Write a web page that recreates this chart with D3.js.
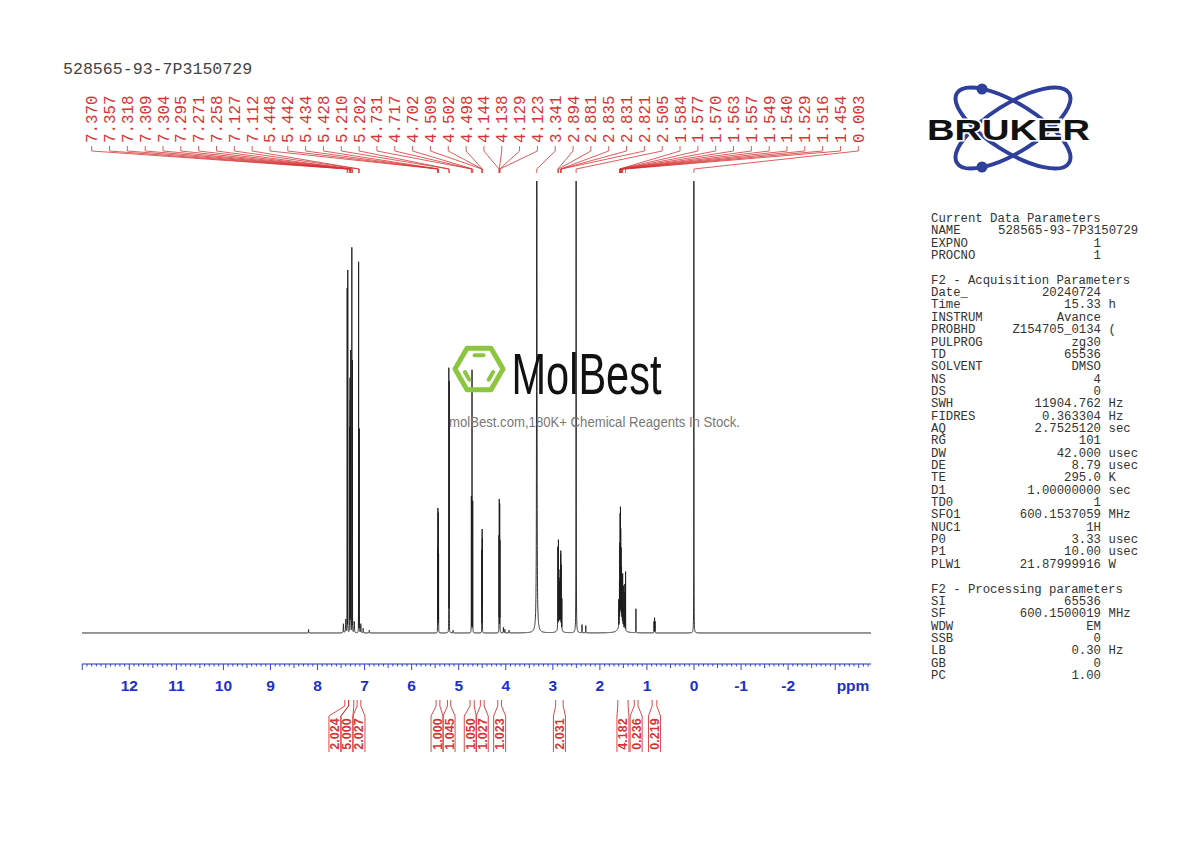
<!DOCTYPE html>
<html><head><meta charset="utf-8">
<script src="https://cdn.jsdelivr.net/npm/d3@7"></script>
<style>body{margin:0;background:#fff}svg{display:block}</style>
</head><body>
<svg id="c" width="1190" height="842"></svg>
<script>
// ---------------- data ----------------
const sampleName = "528565-93-7P3150729";
const peakPpm = [7.370,7.357,7.318,7.309,7.304,7.295,7.271,7.258,7.127,7.112,
  5.448,5.442,5.434,5.428,5.210,5.202,4.731,4.717,4.702,4.509,4.502,4.498,
  4.144,4.138,4.129,4.123,3.341,2.894,2.881,2.835,2.831,2.821,2.505,
  1.584,1.577,1.570,1.563,1.557,1.549,1.540,1.529,1.516,1.454,0.003];
const peakHeight = [0.76,0.80,0.45,0.55,0.50,0.62,0.85,0.60,0.82,0.45,
  0.18,0.27,0.26,0.17,0.58,0.55,0.30,0.58,0.29,0.18,0.22,0.20,
  0.21,0.29,0.28,0.20,2.6,0.18,0.19,0.15,0.16,0.14,2.2,
  0.09,0.17,0.23,0.24,0.19,0.15,0.11,0.10,0.11,0.13,1.6];
const peakWidth = [0.0007,0.0007,0.0007,0.0007,0.0007,0.0007,0.0007,0.0007,0.0007,0.0007,
  0.0008,0.0008,0.0008,0.0008,0.0009,0.0009,0.0009,0.0009,0.0009,0.0008,0.0008,0.0008,
  0.0008,0.0008,0.0008,0.0008,0.003,0.0012,0.0012,0.0010,0.0010,0.0010,0.0015,
  0.0008,0.0008,0.0008,0.0008,0.0008,0.0008,0.0008,0.0008,0.0008,0.0010,0.0012];
// small unlabelled signals
const minorPpm    = [8.19, 7.45, 7.40, 7.22, 7.08, 7.03, 6.90, 5.12, 4.05, 4.02, 3.93, 3.34,
  2.868, 2.855, 2.845, 2.808, 2.86, 2.38, 2.30, 1.60, 1.50, 1.48, 1.47, 1.55, 1.234, 0.850, 0.838, 0.826];
const minorHeight = [0.008, 0.02, 0.03, 0.025, 0.02, 0.01, 0.006, 0.006, 0.012, 0.008, 0.006, 0.015,
  0.10, 0.09, 0.12, 0.07, 0.02, 0.018, 0.016, 0.06, 0.09, 0.08, 0.10, 0.035, 0.053, 0.025, 0.033, 0.025];
const minorWidth  = [0.003, 0.004, 0.005, 0.005, 0.004, 0.004, 0.004, 0.003, 0.003, 0.003, 0.003, 0.03,
  0.0012, 0.0012, 0.0012, 0.0012, 0.03, 0.002, 0.002, 0.001, 0.001, 0.001, 0.001, 0.04, 0.0015, 0.0015, 0.0015, 0.0015];

const integralFrom  = [7.42, 7.34, 7.16, 5.48, 5.24, 4.76, 4.54, 4.17, 2.94, 1.62, 1.27, 0.89];
const integralTo    = [7.34, 7.23, 7.08, 5.40, 5.17, 4.67, 4.46, 4.09, 2.78, 1.40, 1.19, 0.79];
const integralValue = ["2.024","5.000","2.027","1.000","1.045","1.050","1.027","1.023","2.031","4.182","0.236","0.219"];

const axisTicks = [12,11,10,9,8,7,6,5,4,3,2,1,0,-1,-2];

const paramRows = [
  ["Current Data Parameters"],
  ["NAME", "528565-93-7P3150729", "", "left"],
  ["EXPNO", "1", ""],
  ["PROCNO", "1", ""],
  [],
  ["F2 - Acquisition Parameters"],
  ["Date_", "20240724", ""],
  ["Time", "15.33", "h"],
  ["INSTRUM", "Avance", ""],
  ["PROBHD", "Z154705_0134", "("],
  ["PULPROG", "zg30", ""],
  ["TD", "65536", ""],
  ["SOLVENT", "DMSO", ""],
  ["NS", "4", ""],
  ["DS", "0", ""],
  ["SWH", "11904.762", "Hz"],
  ["FIDRES", "0.363304", "Hz"],
  ["AQ", "2.7525120", "sec"],
  ["RG", "101", ""],
  ["DW", "42.000", "usec"],
  ["DE", "8.79", "usec"],
  ["TE", "295.0", "K"],
  ["D1", "1.00000000", "sec"],
  ["TD0", "1", ""],
  ["SFO1", "600.1537059", "MHz"],
  ["NUC1", "1H", ""],
  ["P0", "3.33", "usec"],
  ["P1", "10.00", "usec"],
  ["PLW1", "21.87999916", "W"],
  [],
  ["F2 - Processing parameters"],
  ["SI", "65536", ""],
  ["SF", "600.1500019", "MHz"],
  ["WDW", "EM", ""],
  ["SSB", "0", ""],
  ["LB", "0.30", "Hz"],
  ["GB", "0", ""],
  ["PC", "1.00", ""]
];

// ---------------- drawing ----------------
const svg = d3.select("#c");
const W = 1190, H = 842;
svg.append("rect").attr("width", W).attr("height", H).attr("fill", "#fff");

const x = d3.scaleLinear().domain([13.005, -3.761]).range([82, 871]);
const y = d3.scaleLinear().domain([0, 1]).range([633, 181]);

const mono = "'Liberation Mono', 'DejaVu Sans Mono', monospace";
const sans = "'Liberation Sans', Arial, sans-serif";
const red = "#d63434";
const blue = "#2030c8";

// title
svg.append("text").attr("x", 63).attr("y", 73.5).text(sampleName)
  .attr("font-family", mono).attr("font-size", 16.6).attr("fill", "#444");

// spectrum
const peaks = peakPpm.map((p, i) => ({p, h: peakHeight[i], w: peakWidth[i]}))
  .concat(minorPpm.map((p, i) => ({p, h: minorHeight[i], w: minorWidth[i]})));
const [d0, d1] = x.domain();
let grid = d3.range(d0, d1, -0.001).concat(peaks.map(k => k.p), [d1]);
grid.sort((a, b) => b - a);
const spec = grid.map(p => {
  let s = 0;
  for (const k of peaks) { const u = (p - k.p) / k.w; s += k.h / (1 + u * u); }
  return [p, s];
});
svg.append("clipPath").attr("id", "clip").append("rect")
  .attr("x", 80).attr("y", 181).attr("width", 795).attr("height", 470);
svg.append("path").attr("clip-path", "url(#clip)")
  .attr("d", d3.line().x(d => x(d[0])).y(d => y(d[1]))(spec))
  .attr("fill", "none").attr("stroke", "#1c1c1c").attr("stroke-width", 0.9);

// peak labels + leaders
const nL = peakPpm.length;
const lx = d3.scaleLinear().domain([0, nL - 1]).range([91.7, 858.3]);
const fmt = d3.format(".3f");
const pl = svg.append("g");
peakPpm.forEach((p, i) => {
  const xl = lx(i), xp = x(p);
  pl.append("text")
    .attr("transform", `translate(${xl + 5.5},143) rotate(-90)`)
    .text(fmt(p)).attr("font-family", mono).attr("font-size", 15.8).attr("fill", red);
  pl.append("path")
    .attr("d", `M${xl},146 L${xl},151 L${xp},169 L${xp},173`)
    .attr("fill", "none").attr("stroke", red).attr("stroke-width", 0.8);
});

// axis
const ax = svg.append("g");
ax.append("line").attr("x1", x(d0)).attr("x2", x(d1)).attr("y1", 664).attr("y2", 664)
  .attr("stroke", blue).attr("stroke-width", 1.2);
d3.range(Math.ceil(d1 * 10), Math.floor(d0 * 10) + 1).forEach(k => {
  const len = (k % 10 === 0) ? 6 : (k % 5 === 0 ? 4 : 2.5);
  ax.append("line").attr("x1", x(k / 10)).attr("x2", x(k / 10)).attr("y1", 664).attr("y2", 664 + len)
    .attr("stroke", blue).attr("stroke-width", 0.9);
});
axisTicks.forEach(t => {
  ax.append("text").attr("x", x(t)).attr("y", 691).attr("text-anchor", "middle").text(t)
    .attr("font-family", sans).attr("font-weight", "bold").attr("font-size", 15.5).attr("fill", blue);
});
ax.append("text").attr("x", 853).attr("y", 691).attr("text-anchor", "middle").text("ppm")
  .attr("font-family", sans).attr("font-weight", "bold").attr("font-size", 15.5).attr("fill", blue);

// integrals: labels centred under region, pushed left to avoid overlap
const sp = 12;
const ints = integralValue.map((v, i) => ({v, x1: x(integralFrom[i]), x2: x(integralTo[i])}));
ints.forEach(d => d.c = (d.x1 + d.x2) / 2);
for (let i = ints.length - 2; i >= 0; i--) {
  if (ints[i].c > ints[i + 1].c - sp) ints[i].c = ints[i + 1].c - sp;
}
const ig = svg.append("g");
ints.forEach(d => {
  const bl = d.c - 6, br = d.c + 6;
  ig.append("path").attr("d", `M${d.x1},700 L${d.x1},706 L${bl},716 L${bl},752`)
    .attr("fill", "none").attr("stroke", red).attr("stroke-width", 0.9);
  ig.append("path").attr("d", `M${d.x2},700 L${d.x2},706 L${br},716 L${br},752`)
    .attr("fill", "none").attr("stroke", red).attr("stroke-width", 0.9);
  ig.append("text").attr("transform", `translate(${d.c + 4.5},734) rotate(-90)`)
    .attr("text-anchor", "middle").text(d.v)
    .attr("font-family", sans).attr("font-weight", "bold").attr("font-size", 12.5).attr("fill", red);
});

// parameter panel
const pg = svg.append("g").attr("font-family", mono).attr("font-size", 12.3).attr("fill", "#333");
paramRows.forEach((r, i) => {
  const yy = 222 + i * 12.35;
  if (r.length === 0) return;
  pg.append("text").attr("x", 931).attr("y", yy).text(r[0]).attr("xml:space", "preserve");
  if (r.length > 1) {
    if (r[3] === "left") {
      pg.append("text").attr("x", 998).attr("y", yy).text(r[1]);
    } else {
      pg.append("text").attr("x", 1101).attr("y", yy).attr("text-anchor", "end").text(r[1]);
      if (r[2]) pg.append("text").attr("x", 1108.5).attr("y", yy).text(r[2]);
    }
  }
});

// Bruker logo
const lg = svg.append("g");
const lcx = 1013, lcy = 128, lblue = "#2f3f9c";
[32, -32].forEach(a => lg.append("ellipse").attr("cx", lcx).attr("cy", lcy).attr("rx", 66).attr("ry", 24)
  .attr("transform", `rotate(${a},${lcx},${lcy})`).attr("fill", "none")
  .attr("stroke", lblue).attr("stroke-width", 4));
lg.append("circle").attr("cx", 982).attr("cy", 89).attr("r", 5.5).attr("fill", lblue);
lg.append("circle").attr("cx", 982).attr("cy", 167).attr("r", 5.5).attr("fill", lblue);
lg.append("text").attr("x", 927).attr("y", 140).text("BRUKER")
  .attr("textLength", 163).attr("lengthAdjust", "spacingAndGlyphs")
  .attr("font-family", sans).attr("font-weight", "bold").attr("font-size", 29)
  .attr("fill", "#111").attr("stroke", "#fff").attr("stroke-width", 3).attr("paint-order", "stroke");

// MolBest watermark
const wm = svg.append("g");
const hx = 479, hy = 369, hr = 24, green = "#8cc63f";
const hex = d3.range(6).map(k => [hx + hr * Math.cos(k * Math.PI / 3), hy + hr * Math.sin(k * Math.PI / 3)]);
wm.append("polygon").attr("points", hex.map(p => p.join(",")).join(" "))
  .attr("fill", "none").attr("stroke", green).attr("stroke-width", 5).attr("stroke-linejoin", "round");
[[4, 5], [2, 3], [0, 1]].forEach(([a, b]) => {
  const f = 0.66, s = 0.22;
  const P = [hx + (hex[a][0] - hx) * f, hy + (hex[a][1] - hy) * f];
  const Q = [hx + (hex[b][0] - hx) * f, hy + (hex[b][1] - hy) * f];
  const A = [P[0] + (Q[0] - P[0]) * s, P[1] + (Q[1] - P[1]) * s];
  const B = [Q[0] + (P[0] - Q[0]) * s, Q[1] + (P[1] - Q[1]) * s];
  wm.append("line").attr("x1", A[0]).attr("y1", A[1]).attr("x2", B[0]).attr("y2", B[1])
    .attr("stroke", green).attr("stroke-width", 4).attr("stroke-linecap", "round");
});
wm.append("text").attr("x", 511.5).attr("y", 393.5).text("MolBest")
  .attr("textLength", 150).attr("lengthAdjust", "spacingAndGlyphs")
  .attr("font-family", sans).attr("font-size", 57).attr("fill", "#111");
wm.append("text").attr("x", 449).attr("y", 427).text("molBest.com,180K+ Chemical Reagents In Stock.")
  .attr("textLength", 291).attr("lengthAdjust", "spacingAndGlyphs")
  .attr("font-family", sans).attr("font-size", 14).attr("fill", "#777");
</script>
</body></html>
